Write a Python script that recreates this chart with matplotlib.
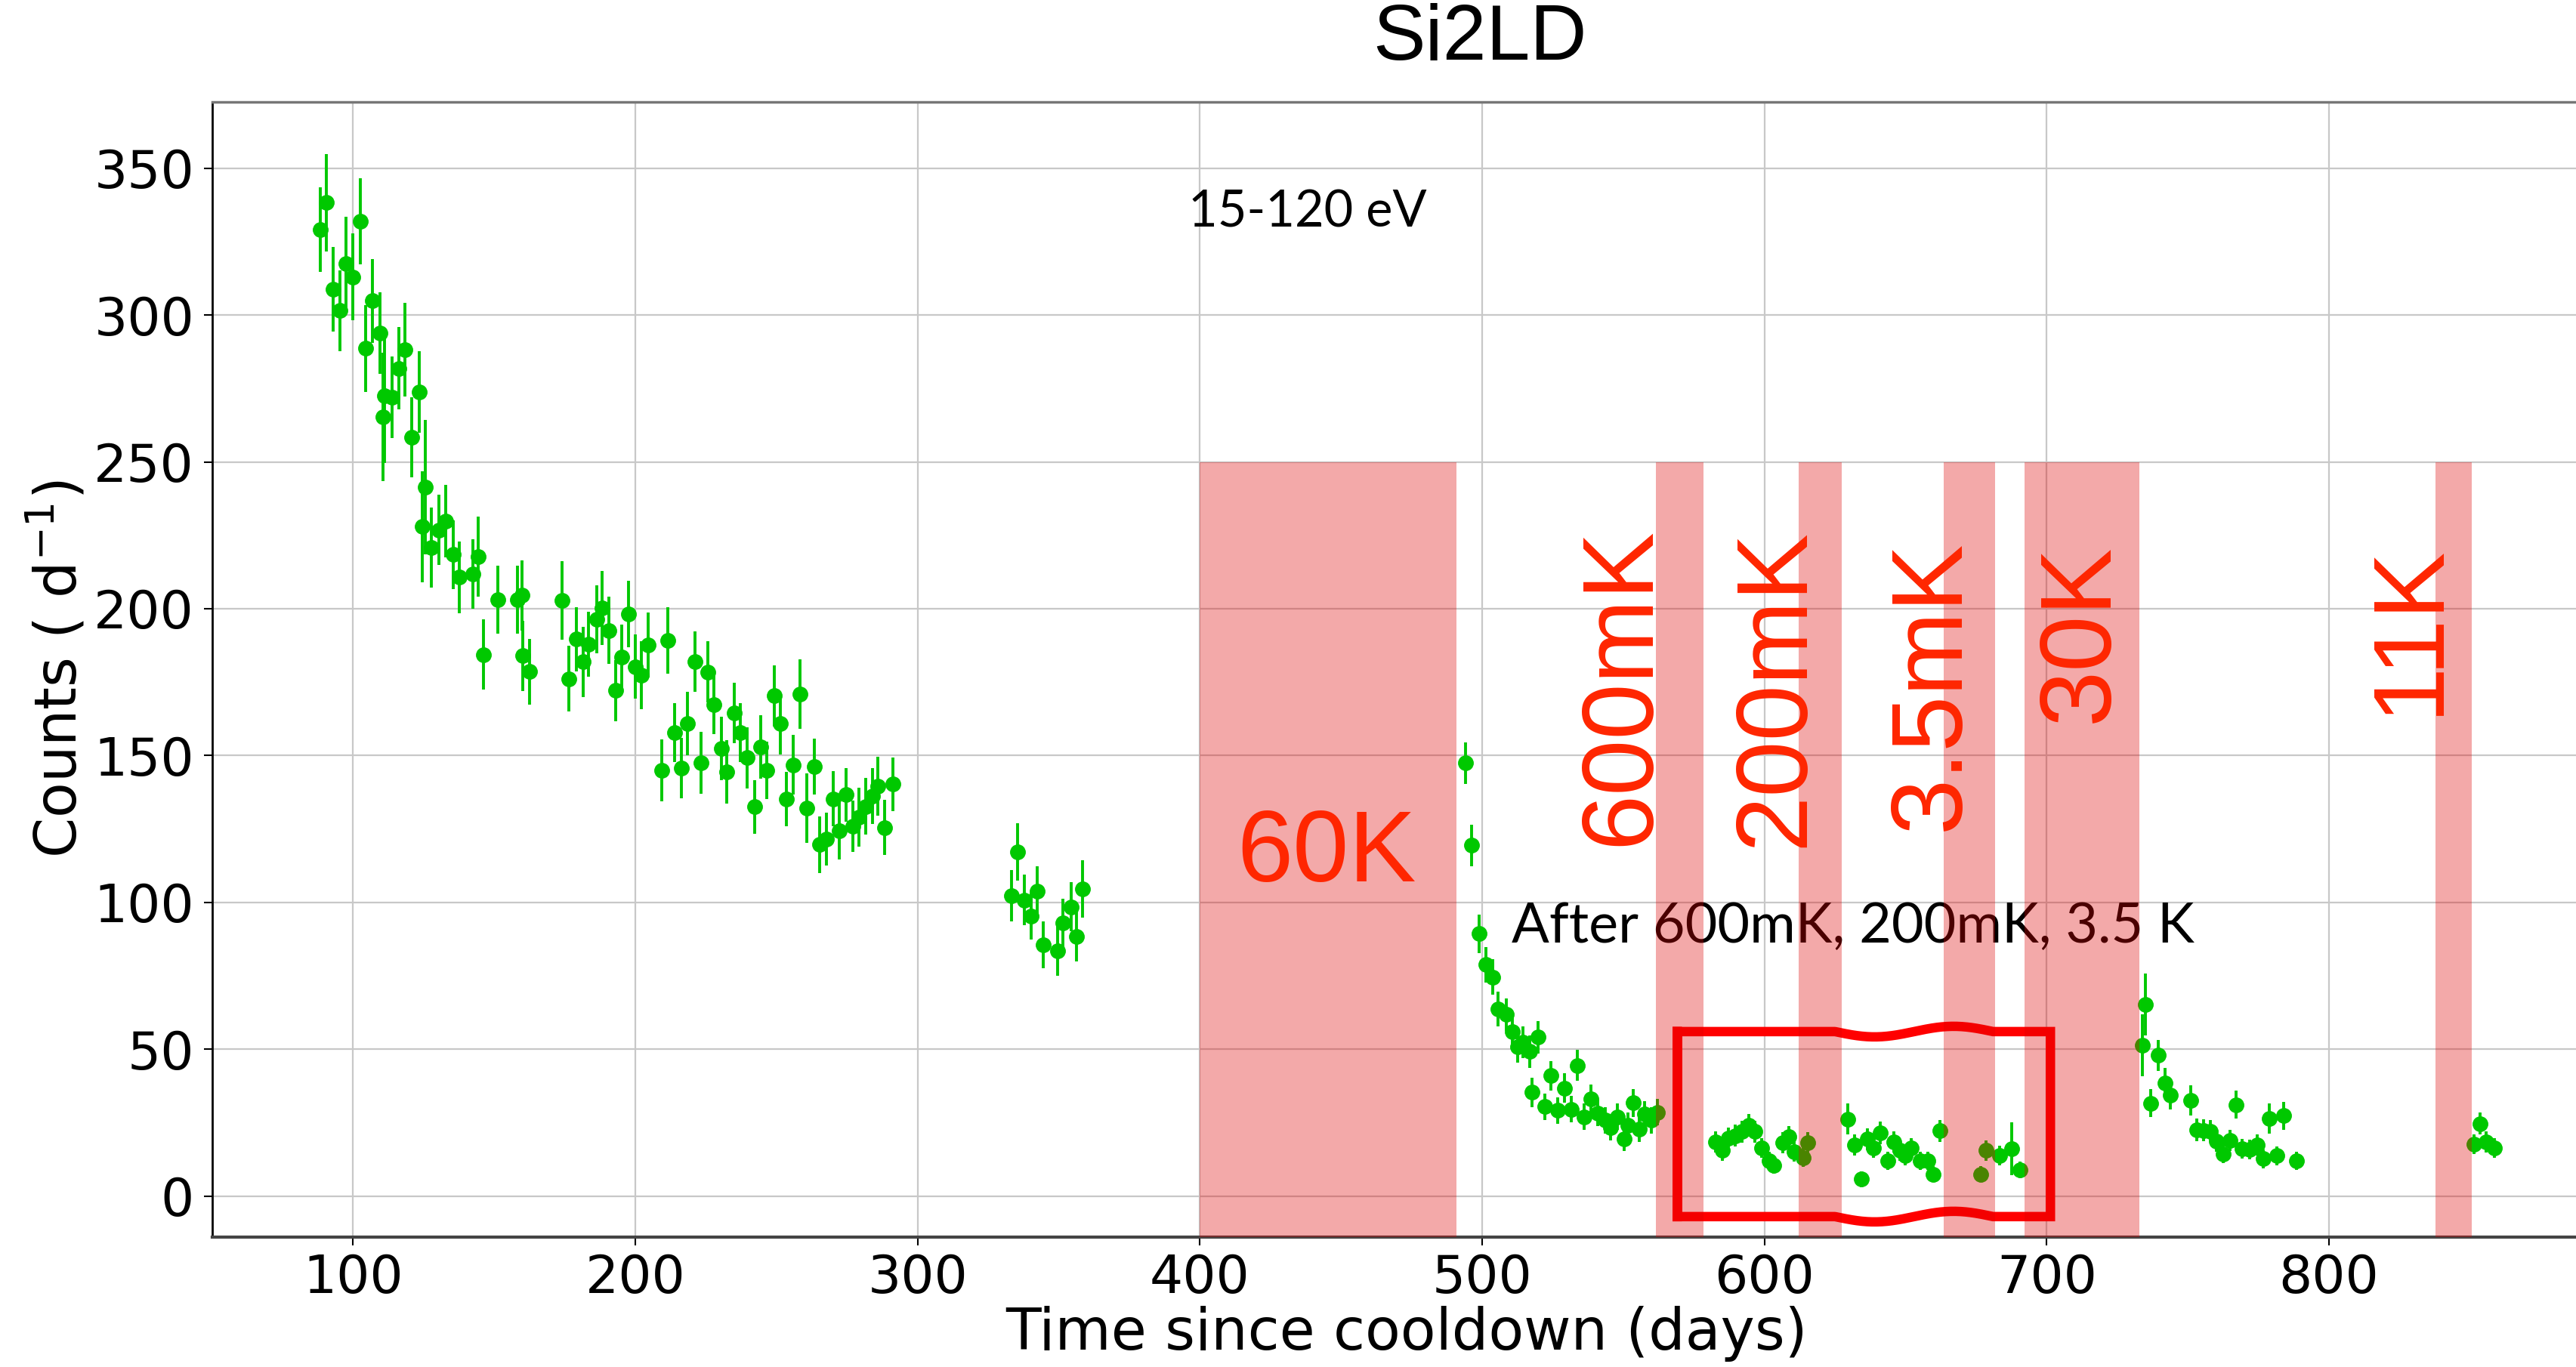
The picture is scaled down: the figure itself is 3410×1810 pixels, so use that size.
import numpy as np
import matplotlib
matplotlib.use("Agg")
import matplotlib.pyplot as plt

# rate in the 15-120 eV window
days = [88.4, 90.5, 92.8, 95.3, 97.4, 99.9, 102.5, 104.4, 106.8, 109.4,
        110.5, 111.1, 113.7, 116.2, 118.4, 120.8, 123.4, 124.6, 125.5, 127.7,
        130.3, 132.8, 135.4, 137.7, 142.4, 144.2, 146.1, 151.3, 158.2, 159.7,
        160.0, 162.5, 174.1, 176.4, 179.2, 181.5, 183.5, 186.2, 188.2, 190.5,
        193.1, 195.2, 197.5, 199.9, 202.2, 204.6, 209.3, 211.6, 214.0, 216.3,
        218.5, 221.0, 223.2, 225.7, 227.9, 230.4, 232.3, 235.1, 237.3, 239.6,
        242.2, 244.3, 246.6, 249.2, 251.3, 253.5, 256.0, 258.2, 260.7, 263.3,
        265.2, 267.6, 270.1, 272.3, 274.6, 277.0, 279.3, 281.6, 284.0, 285.9,
        288.3, 291.2,
        333.3, 335.4, 337.8, 340.2, 342.3, 344.6, 349.5, 351.5, 354.3, 356.3, 358.4,
        494.0, 496.3, 498.8, 501.4, 503.8, 505.6, 508.5, 510.6, 512.5, 514.5,
        516.8, 517.6, 519.7, 522.2, 524.4, 526.8, 529.1, 531.6, 533.7, 536.2,
        538.5, 541.0, 543.6, 545.6, 547.9, 550.4, 551.6, 553.5, 555.6, 557.6,
        559.8, 562.0,
        582.6, 585.1, 587.2, 589.7, 592.0, 594.5, 596.6, 599.1, 601.7, 603.4,
        606.5, 608.5, 610.6, 613.7, 615.4, 629.4, 631.9, 634.2, 636.4, 638.5,
        641.0, 643.6, 645.8, 647.9, 649.9, 652.1, 655.2, 657.8, 659.8, 662.1,
        676.6, 678.6, 683.4, 687.7, 690.6,
        734.0, 735.0, 736.8, 739.5, 741.8, 743.8, 750.9, 753.2, 755.6, 757.9,
        760.0, 762.6, 765.0, 767.2, 769.3, 771.9, 774.5, 776.8, 778.9, 781.4,
        783.9, 788.4,
        851.3, 853.6, 855.6, 858.5]
counts = [329.1, 338.3, 308.8, 301.5, 317.4, 313.0, 332.0, 288.6, 304.8, 293.8,
          265.3, 272.6, 272.0, 281.8, 288.2, 258.4, 273.7, 227.9, 241.4, 220.8,
          226.8, 229.9, 218.5, 210.7, 211.8, 217.8, 184.4, 203.0, 203.0, 204.5,
          184.0, 178.6, 202.8, 176.1, 189.6, 181.9, 187.9, 196.4, 200.3, 192.6,
          172.1, 183.6, 198.1, 180.3, 177.4, 187.7, 145.0, 189.1, 157.8, 145.8,
          160.9, 181.9, 147.5, 178.5, 167.4, 152.4, 144.4, 164.5, 157.8, 149.2,
          132.5, 153.0, 145.0, 170.3, 160.9, 135.1, 146.8, 171.0, 132.1, 146.2,
          119.7, 121.6, 135.3, 124.4, 136.6, 125.9, 129.1, 132.7, 136.2, 139.6,
          125.5, 140.2,
          102.3, 117.1, 100.8, 95.3, 103.8, 85.6, 83.6, 92.9, 98.5, 88.4, 104.5,
          147.4, 119.4, 89.3, 78.8, 74.6, 63.7, 61.8, 56.1, 50.9, 52.4,
          49.2, 35.3, 54.1, 30.5, 41.0, 29.2, 36.7, 29.6, 44.5, 27.0,
          33.0, 28.3, 25.8, 23.2, 27.0, 19.4, 24.2, 31.7, 22.8, 27.9,
          25.8, 28.5,
          18.5, 15.5, 19.8, 20.6, 21.9, 24.1, 21.9, 16.4, 12.1, 10.4,
          18.1, 20.2, 15.1, 13.1, 18.1, 26.2, 17.4, 5.7, 19.4, 16.4,
          21.5, 12.1, 18.5, 15.5, 13.8, 16.4, 12.1, 12.1, 7.4, 22.2,
          7.4, 15.5, 13.8, 16.2, 8.9,
          51.3, 65.2, 31.6, 47.9, 38.6, 34.3, 32.6, 22.6, 22.4, 22.1,
          18.7, 14.4, 18.9, 31.1, 16.1, 15.9, 17.4, 12.7, 26.4, 13.7,
          27.3, 12.0,
          17.6, 24.7, 18.4, 16.3]
errs = [14.5, 16.6, 14.5, 13.8, 16.0, 14.8, 14.7, 14.9, 14.2, 13.9,
        21.8, 23.0, 13.9, 14.0, 15.9, 13.6, 13.9, 18.9, 23.0, 13.6,
        11.9, 12.3, 11.7, 12.2, 11.8, 13.6, 12.0, 11.6, 11.6, 12.0,
        12.0, 11.2, 13.3, 11.2, 11.0, 11.9, 11.0, 11.5, 12.6, 11.5,
        10.3, 11.0, 11.3, 10.9, 11.5, 11.0, 10.6, 11.3, 10.0, 10.3,
        10.7, 10.3, 10.6, 10.5, 10.0, 10.7, 10.8, 10.2, 10.0, 10.3,
        9.1, 10.8, 9.7, 10.3, 10.6, 9.3, 10.2, 11.8, 11.8, 9.6,
        9.6, 9.0, 9.5, 9.7, 9.2, 8.8, 10.0, 9.6, 9.4, 10.0,
        9.3, 9.1,
        8.7, 9.8, 8.6, 8.0, 8.5, 8.0, 8.5, 8.4, 8.4, 8.6, 9.8,
        7.0, 7.0, 6.5, 6.0, 6.0, 6.0, 5.5, 5.5, 5.5, 5.5,
        5.5, 5.0, 5.5, 4.5, 5.0, 4.5, 5.0, 4.5, 5.2, 4.5,
        5.0, 4.5, 4.5, 4.3, 4.5, 4.0, 4.3, 4.8, 4.3, 4.5,
        4.5, 4.5,
        3.6, 3.4, 3.6, 3.7, 3.7, 3.9, 3.7, 3.4, 3.0, 2.9,
        3.6, 3.7, 3.4, 3.2, 3.6, 5.3, 3.6, 2.6, 3.7, 3.4,
        3.8, 3.1, 3.6, 3.4, 3.3, 3.4, 3.1, 3.1, 2.7, 3.8,
        2.7, 3.4, 3.3, 9.0, 2.8,
        10.5, 10.5, 4.8, 5.3, 5.0, 4.8, 5.2, 3.8, 3.8, 3.8,
        3.6, 3.3, 3.6, 4.8, 3.4, 3.4, 3.5, 3.2, 5.1, 3.3,
        4.8, 3.2,
        3.3, 3.8, 3.5, 3.3]

# warm-up periods (days) and the temperature reached
band_lo = [400.0, 561.5, 612.2, 663.5, 692.0, 837.8]
band_hi = [491.0, 578.4, 627.4, 681.6, 732.9, 850.6]
band_names = ['60K', '600mK', '200mK', '3.5mK', '30K', '11K']
band_top = 250

# where the temperature labels sit
lab_x = [444.8, 549.6, 604.2, 659.5, 712.4, 829.0]
lab_y = [115.9, 173.5, 173.0, 174.0, 191.8, 193.0]
lab_rot = [0, 90, 90, 90, 90, 90]

fig = plt.figure(figsize=(34.1, 18.1), dpi=100)
ax = fig.add_axes([0.0823, 0.0952, 0.9177, 0.8303])
ax.set_xlim(50, 887.5)
ax.set_ylim(-13.9, 372.6)
ylo = ax.get_ylim()[0]

ax.grid(True, color='#c8c8c8', lw=1.6, zorder=0.5)
ax.set_axisbelow(True)

ax.errorbar(days, counts, yerr=errs, fmt='o', color='#00c800', ms=14,
            elinewidth=2.8, capsize=0, zorder=2)

# shaded warm-ups, drawn over the points and notes
lo = np.array(band_lo)
hi = np.array(band_hi)
ax.bar((lo + hi) / 2, band_top - ylo, width=hi - lo, bottom=ylo,
       color=(0.87, 0, 0), alpha=0.337, lw=0, zorder=3)
for name, x, y, r in zip(band_names, lab_x, lab_y, lab_rot):
    ax.text(x, y, name, rotation=r, ha='center', va='center', fontsize=96,
            color='#ff2600', family='Liberation Sans', zorder=5)

# hand-drawn box around the quiet stretch
xs = np.linspace(569.1, 701.3, 300)
wave = np.where((xs > 625) & (xs < 681), 1.8 * np.sin(2 * np.pi * (xs - 653) / 56), 0)
top = 56 + wave
bot = -7 + wave
bx = np.concatenate([[xs[0]], xs, [xs[-1]], xs[::-1], [xs[0]]])
by = np.concatenate([[bot[0]], top, [bot[-1]], bot[::-1], [top[0]]])
ax.plot(bx, by, color='#ff0000', lw=9, zorder=2.5, solid_joinstyle='miter')

ax.text(396, 330.1, '15-120 eV', fontsize=48, family='Lato', ha='left',
        va='baseline', zorder=2.6)
ax.text(510.3, 86.2, 'After 600mK, 200mK, 3.5 K', fontsize=53, family='Lato',
        ha='left', va='baseline', zorder=2.6)

ax.tick_params(labelsize=50, length=8, width=1.5)
ax.tick_params(axis='x', pad=7)
ax.tick_params(axis='y', pad=9)
ax.set_yticks(np.arange(0, 351, 50))

ax.spines['right'].set_visible(False)
ax.spines['left'].set_linewidth(2)
ax.spines['bottom'].set_linewidth(3)
ax.spines['bottom'].set_color('#444444')
ax.spines['top'].set_linewidth(2.5)
ax.spines['top'].set_color('#777777')

ax.set_xlabel('Time since cooldown (days)', fontsize=55)
ax.xaxis.set_label_coords(0.5054, -0.0854)
ax.xaxis.label.set_va('center')
ax.set_ylabel('Counts ( d$^{-1}$)', fontsize=55)
ax.yaxis.set_label_coords(-0.0653, 0.5)
ax.yaxis.label.set_va('center')
ax.set_title('Si2LD', x=0.5364, y=1.049, va='center', fontsize=75,
             family='Liberation Sans')

fig.savefig('out.png', dpi=100)
